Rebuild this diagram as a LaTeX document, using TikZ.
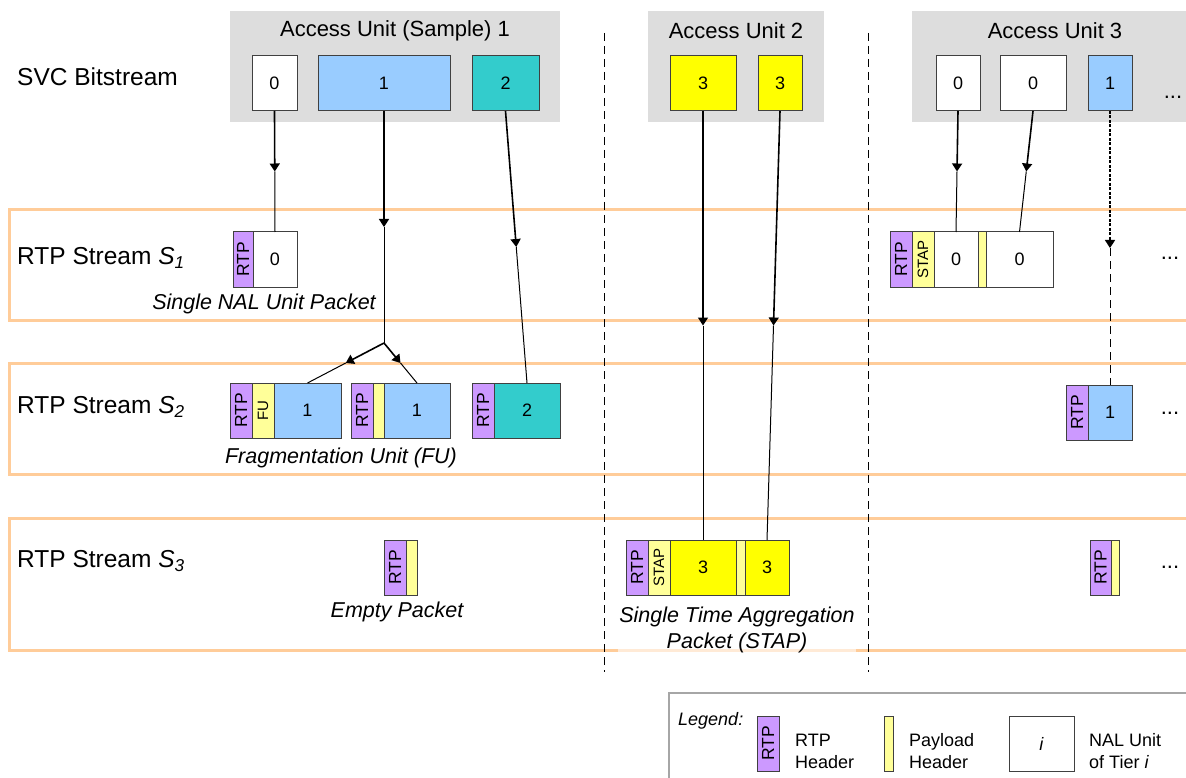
\documentclass[tikz,border=0pt]{standalone}
\usepackage{fontspec}
\setmainfont{Liberation Sans}
\usetikzlibrary{arrows.meta,calc}
\definecolor{aug}{HTML}{DDDDDD}
\definecolor{bluec}{HTML}{99CCFF}
\definecolor{tealc}{HTML}{33CCCC}
\definecolor{yelc}{HTML}{FFFF00}
\definecolor{rtpc}{HTML}{CC99FF}
\definecolor{phc}{HTML}{FFFF99}
\definecolor{bandc}{HTML}{FFCC99}
\definecolor{bordc}{HTML}{404040}
\definecolor{legc}{HTML}{A6A6A6}
\tikzset{
  au/.style={fill=aug, draw=none, anchor=north west, inner sep=0pt, minimum height=111pt},
  title/.style={font=\fontsize{22}{24}\selectfont, inner sep=0pt},
  rowlab/.style={font=\fontsize{24.5}{28}\selectfont, anchor=west, inner sep=0pt},
  capt/.style={font=\fontsize{21.5}{26}\selectfont\itshape, inner sep=0pt, align=center},
  nal/.style={draw=bordc, fill=white, line width=1pt, anchor=north west, inner sep=0pt, outer sep=0pt, minimum height=55pt, font=\fontsize{18}{20}\selectfont},
  rtp/.style={nal, fill=rtpc, minimum width=22pt, font=\fontsize{17.5}{18}\selectfont},
  ph/.style={nal, fill=phc, font=\fontsize{15}{16}\selectfont},
  band/.style={draw=bandc, line width=3pt},
  sep/.style={line width=0.9pt, dash pattern=on 8pt off 5pt},
  dots/.style={font=\fontsize{22}{24}\selectfont, inner sep=0pt},
  legtxt/.style={font=\fontsize{18}{22}\selectfont, anchor=west, align=left, inner sep=0pt},
  connup/.style={line width=1.6pt, -{Triangle[length=8pt,width=10pt]}},
  connlow/.style={line width=1pt}
}
% connector from node anchor #2 to node anchor #3, arrowhead at the middle
\newcommand{\myconn}[3][]{%
  \draw[connup,#1] (#2) -- ($(#2)!0.5!(#3)$);
  \draw[connlow,#1] ($(#2)!0.5!(#3)$) -- (#3);}
\begin{document}
\begin{tikzpicture}[x=1pt,y=-1pt]
\useasboundingbox (0,0) rectangle (1186,778);
% stream bands
\draw[band] (1200,210) -- (9,210) -- (9,320) -- (1200,320);
\draw[band] (1200,363) -- (9,363) -- (9,474) -- (1200,474);
\draw[band] (1200,518) -- (9,518) -- (9,650) -- (1200,650);
% separators
\coordinate (d1t) at (604,33); \coordinate (d1b) at (604,672);
\coordinate (d2t) at (868,33); \coordinate (d2b) at (868,672);
\draw[sep] (d1t) -- (d1b);
\draw[sep] (d2t) -- (d2b);
% row labels
\node[rowlab] (lsvc) at (17,77) {SVC Bitstream};
\node[rowlab] (ls1) at (17,258) {RTP Stream \textit{S\textsubscript{1}}};
\node[rowlab] (ls2) at (17,407) {RTP Stream \textit{S\textsubscript{2}}};
\node[rowlab] (ls3) at (17,561) {RTP Stream \textit{S\textsubscript{3}}};
% access units
\node[au, minimum width=330pt] (au1) at (230,11) {};
\node[au, minimum width=176pt] (au2) at (648,11) {};
\node[au, minimum width=274pt] (au3) at (912,11) {};
\node[title] (t1) at (395,31) {Access Unit (Sample) 1};
\node[title] (t2) at (736,31) {Access Unit 2};
\node[title] (t3) at (1055,31) {Access Unit 3};
% NAL units in bitstream
\node[nal, minimum width=45pt] (a0) at (252,56) {0};
\node[nal, fill=bluec, minimum width=132pt] (a1) at (318,56) {1};
\node[nal, fill=tealc, minimum width=67pt] (a2) at (472,56) {2};
\node[nal, fill=yelc, minimum width=66pt] (b3) at (670,56) {3};
\node[nal, fill=yelc, minimum width=44pt] (b3b) at (758,56) {3};
\node[nal, minimum width=44pt] (c0) at (936,56) {0};
\node[nal, minimum width=66pt] (c0b) at (1000,56) {0};
\node[nal, fill=bluec, minimum width=44pt] (c1) at (1088,56) {1};
\node[dots] (dd0) at (1173,97) {...};
% stream S1
\node[rtp, minimum width=20pt] (s1r) at (233,232) {\rotatebox{90}{RTP}};
\node[nal, minimum width=44pt] (s1a) at (253,232) {0};
\node[capt] (cap1) at (264,304) {Single NAL Unit Packet};
\node[rtp] (s1r2) at (890,232) {\rotatebox{90}{RTP}};
\node[ph, minimum width=22pt] (s1st) at (912,232) {\rotatebox{90}{STAP}};
\node[nal, minimum width=44pt] (s1b) at (934,232) {0};
\node[ph, minimum width=8pt] (s1ph) at (978,232) {};
\node[nal, minimum width=67pt] (s1c) at (986,232) {0};
\node[dots] (dd1) at (1170,258) {...};
% stream S2
\node[rtp] (s2r1) at (230,383) {\rotatebox{90}{RTP}};
\node[ph, minimum width=22pt] (s2fu) at (252,383) {\rotatebox{90}{FU}};
\node[nal, fill=bluec, minimum width=67pt] (s2a) at (274,383) {1};
\node[rtp] (s2r2) at (351,383) {\rotatebox{90}{RTP}};
\node[ph, minimum width=11pt] (s2ph) at (373,383) {};
\node[nal, fill=bluec, minimum width=66pt] (s2b) at (384,383) {1};
\node[rtp] (s2r3) at (472,383) {\rotatebox{90}{RTP}};
\node[nal, fill=tealc, minimum width=66pt] (s2c) at (494,383) {2};
\node[capt] (cap2) at (341,458) {Fragmentation Unit (FU)};
\node[rtp] (s2r4) at (1066,385) {\rotatebox{90}{RTP}};
\node[nal, fill=bluec, minimum width=44pt] (s2d) at (1088,385) {1};
\node[dots] (dd2) at (1170,413) {...};
% stream S3
\node[rtp] (s3r1) at (384,540) {\rotatebox{90}{RTP}};
\node[ph, minimum width=11pt] (s3ph1) at (406,540) {};
\node[capt] (cap3) at (397,612) {Empty Packet};
\node[rtp] (s3r2) at (626,540) {\rotatebox{90}{RTP}};
\node[ph, minimum width=22pt] (s3st) at (648,540) {\rotatebox{90}{STAP}};
\node[nal, fill=yelc, minimum width=66pt] (s3a) at (670,540) {3};
\node[ph, minimum width=9pt] (s3ph2) at (736,540) {};
\node[nal, fill=yelc, minimum width=44pt] (s3b) at (745,540) {3};
\node[capt, fill=white, fill opacity=0.6, text opacity=1, inner sep=1pt] (cap4) at (737,630) {Single Time Aggregation\\Packet (STAP)};
\node[rtp, minimum width=21pt] (s3r3) at (1090,540) {\rotatebox{90}{RTP}};
\node[ph, minimum width=8pt] (s3ph3) at (1111,540) {};
\node[dots] (dd3) at (1170,567) {...};
% connectors
\coordinate (br) at (384,343);
\myconn{a0.south}{s1a.north}
\myconn{a1.south}{br}
\myconn{br}{s2a.north}
\myconn{br}{s2b.north}
\myconn{a2.south}{s2c.north}
\myconn{b3.south}{s3a.north}
\myconn{b3b.south}{s3b.north}
\myconn{c0.south}{s1b.north}
\myconn{c0b.south}{s1c.north}
\draw[connup, dash pattern=on 3pt off 1.5pt] (c1.south) -- ($(c1.south)!0.5!(s2d.north)$);
\draw[connlow, dash pattern=on 8pt off 5pt] ($(c1.south)!0.5!(s2d.north)$) -- (s2d.north);
% legend
\draw[legc, line width=1.5pt] (1200,693) -- (669,693) -- (669,790);
\node[font=\fontsize{18}{20}\selectfont\itshape, anchor=west, inner sep=0pt] (leg) at (678,721) {Legend:};
\node[rtp, minimum width=22pt] (lr) at (757,716) {\rotatebox{90}{RTP}};
\node[legtxt] (lrt) at (795,751) {RTP\\Header};
\node[ph, minimum width=9pt] (lp) at (884,716) {};
\node[legtxt] (lpt) at (909,751) {Payload\\Header};
\node[nal, minimum width=65pt] (ln) at (1009,716) {\textit{i}};
\node[legtxt] (lnt) at (1089,751) {NAL Unit\\of Tier \textit{i}};
\end{tikzpicture}
\end{document}
